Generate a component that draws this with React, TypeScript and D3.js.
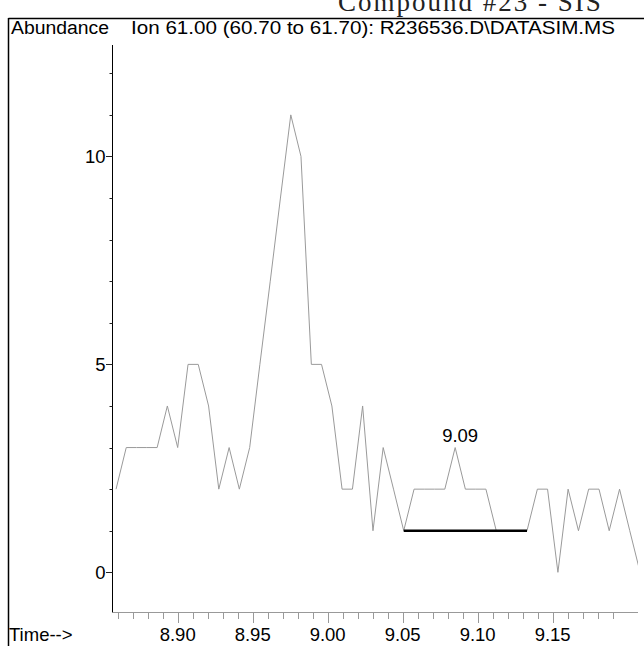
import React, { useEffect, useRef } from 'react'
import * as d3 from 'd3'

// retention times (min) and abundance of ion 61.00
const times = [
  8.8589, 8.8657, 8.8726, 8.8794, 8.8863, 8.8931, 8.9000, 8.9069, 8.9137, 8.9206,
  8.9274, 8.9343, 8.9411, 8.9480, 8.9548, 8.9617, 8.9685, 8.9754, 8.9822, 8.9891,
  8.9959, 9.0028, 9.0096, 9.0165, 9.0233, 9.0302, 9.0370, 9.0439, 9.0507, 9.0576,
  9.0644, 9.0713, 9.0781, 9.0850, 9.0918, 9.0987, 9.1055, 9.1124, 9.1192, 9.1261,
  9.1329, 9.1398, 9.1466, 9.1535, 9.1603, 9.1672, 9.1740, 9.1809, 9.1877, 9.1946,
  9.2014, 9.2083,
]
const abundance = [
  2, 3, 3, 3, 3, 4, 3, 5, 5, 4,
  2, 3, 2, 3, 5, 7, 9, 11, 10, 5,
  5, 4, 2, 2, 4, 1, 3, 2, 1, 2,
  2, 2, 2, 3, 2, 2, 2, 1, 1, 1,
  1, 2, 2, 0, 2, 1, 2, 2, 1, 2,
  1, 0,
]

const xMajorTicks = [8.90, 8.95, 9.00, 9.05, 9.10, 9.15]
const yMajorTicks = [0, 5, 10]
const yMinorTicks = [0, 1, 2, 3, 4, 5, 6, 7, 8, 9, 10, 11, 12]

// integrated peak
const peakLabel = '9.09'
const peakIndex = 33
const baseStart = 9.0507
const baseEnd = 9.1329
const baseLevel = 1

const titleText = 'Ion  61.00 (60.70 to 61.70): R236536.D\\DATASIM.MS'
const headerText = 'Compound  #23  -  SIS'

const FONT = '"Liberation Sans", Arial, sans-serif'

function drawChart(el: SVGSVGElement) {
  const svg = d3.select(el)
  svg.selectAll('*').remove()

  const x = d3.scaleLinear().domain([8.8564, 9.2069]).range([112.3, 638])
  const y = d3.scaleLinear().domain([-0.971, 12.68]).range([612.7, 45])

  // page header, cut off by the top edge like the scan
  svg.append('text')
    .attr('x', 338).attr('y', 11)
    .attr('font-family', '"Liberation Serif", "DejaVu Serif", serif')
    .attr('font-size', 27)
    .attr('letter-spacing', 2)
    .attr('fill', '#222')
    .text(headerText)

  // frame
  svg.append('line').attr('x1', 8.5).attr('x2', 644).attr('y1', 18.5).attr('y2', 18.5)
    .attr('stroke', '#000').attr('stroke-width', 1.5)
  svg.append('line').attr('x1', 8.5).attr('x2', 8.5).attr('y1', 18).attr('y2', 646)
    .attr('stroke', '#000').attr('stroke-width', 1.5)

  svg.append('text')
    .attr('x', 11).attr('y', 34)
    .attr('font-family', FONT).attr('font-size', 18)
    .attr('textLength', 98).attr('lengthAdjust', 'spacingAndGlyphs')
    .text('Abundance')
  svg.append('text')
    .attr('x', 131).attr('y', 34)
    .attr('font-family', FONT).attr('font-size', 18)
    .attr('textLength', 484).attr('lengthAdjust', 'spacingAndGlyphs')
    .text(titleText)

  // y axis
  svg.append('line')
    .attr('x1', 112.5).attr('x2', 112.5)
    .attr('y1', y(12.68)).attr('y2', y(-0.971))
    .attr('stroke', '#000')
  svg.append('g').selectAll('line').data(yMinorTicks).join('line')
    .attr('x1', d => yMajorTicks.includes(d) ? 106 : 109.5)
    .attr('x2', 112.5)
    .attr('y1', d => Math.round(y(d)) + 0.5)
    .attr('y2', d => Math.round(y(d)) + 0.5)
    .attr('stroke', '#222')
  svg.append('g').selectAll('text').data(yMajorTicks).join('text')
    .attr('x', 105.5)
    .attr('y', d => y(d) + 6.5)
    .attr('text-anchor', 'end')
    .attr('font-family', FONT).attr('font-size', 18.5)
    .text(d => d)

  // x axis
  const xMinor = d3.range(0, 34).map(i => +(8.86 + i * 0.01).toFixed(2))
  svg.append('line')
    .attr('x1', 112.3).attr('x2', 638)
    .attr('y1', 612.5).attr('y2', 612.5)
    .attr('stroke', '#999')
  svg.append('g').selectAll('line').data(xMinor).join('line')
    .attr('x1', d => Math.round(x(d)) + 0.5)
    .attr('x2', d => Math.round(x(d)) + 0.5)
    .attr('y1', 612.5)
    .attr('y2', d => xMajorTicks.some(m => Math.abs(m - d) < 1e-6) ? 623 : 619)
    .attr('stroke', '#999')
  svg.append('g').selectAll('text').data(xMajorTicks).join('text')
    .attr('x', d => x(d))
    .attr('y', 641)
    .attr('text-anchor', 'middle')
    .attr('font-family', FONT).attr('font-size', 18.5)
    .text(d => d.toFixed(2))
  svg.append('text')
    .attr('x', 9).attr('y', 641)
    .attr('font-family', FONT).attr('font-size', 18.5)
    .text('Time-->')

  // trace
  svg.append('clipPath').attr('id', 'plotClip')
    .append('rect').attr('x', 112.5).attr('y', 40).attr('width', 525.5).attr('height', 575)

  const line = d3.line<number>()
    .x((d, i) => x(times[i]))
    .y(d => y(d))

  svg.append('path')
    .datum(abundance)
    .attr('clip-path', 'url(#plotClip)')
    .attr('d', line)
    .attr('fill', 'none')
    .attr('stroke', '#9a9a9a')
    .attr('stroke-width', 1)

  // integration baseline
  svg.append('line')
    .attr('x1', x(baseStart)).attr('x2', x(baseEnd))
    .attr('y1', y(baseLevel)).attr('y2', y(baseLevel))
    .attr('stroke', '#000').attr('stroke-width', 2.6)

  svg.append('text')
    .attr('x', x(times[peakIndex]) + 5)
    .attr('y', y(abundance[peakIndex]) - 6)
    .attr('text-anchor', 'middle')
    .attr('font-family', FONT).attr('font-size', 18.5)
    .text(peakLabel)
}

const App = () => {
  const ref = useRef<SVGSVGElement>(null)
  useEffect(() => {
    if (ref.current) drawChart(ref.current)
  }, [])

  return (
    <svg ref={ref} width={644} height={646}
      style={{ position: 'absolute', left: 0, top: 0, background: '#fff' }} />
  )
}

export default App
